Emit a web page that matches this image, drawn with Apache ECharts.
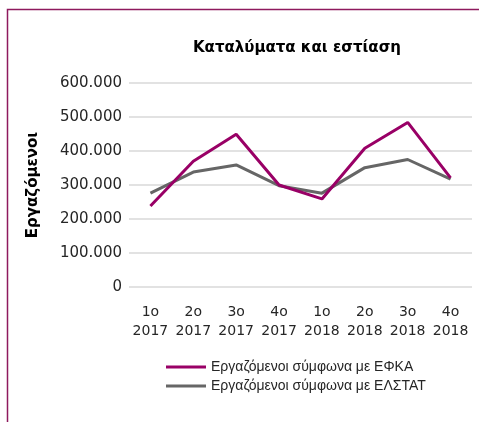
<!DOCTYPE html>
<html>
<head>
<meta charset="utf-8">
<script src="https://cdn.jsdelivr.net/npm/echarts@6/dist/echarts.min.js"></script>
<style>
  html, body { margin: 0; padding: 0; background: #fff; }
  #chart { width: 480px; height: 422px; }
</style>
</head>
<body>
<div id="chart"></div>
<script>
// quarters (two-line labels)
const categories = ['1ο\n2017', '2ο\n2017', '3ο\n2017', '4ο\n2017', '1ο\n2018', '2ο\n2018', '3ο\n2018', '4ο\n2018'];
// employees according to EFKA
const efka = [238000, 370000, 449000, 300000, 259000, 408000, 484000, 321000];
// employees according to ELSTAT
const elstat = [276000, 338000, 359000, 298000, 276000, 351000, 375000, 317000];
const seriesNames = ['Εργαζόμενοι σύμφωνα με ΕΦΚΑ', 'Εργαζόμενοι σύμφωνα με ΕΛΣΤΑΤ'];

const txt = '#262626';
const chart = echarts.init(document.getElementById('chart'), null, { renderer: 'canvas' });

chart.setOption({
  animation: false,
  title: {
    text: 'Καταλύματα και εστίαση',
    left: 292,
    top: 36,
    textAlign: 'center',
    textStyle: { fontFamily: 'DejaVu Sans', fontSize: 15, fontWeight: 'bold', color: '#000' }
  },
  grid: { left: 129, right: 8, top: 83, bottom: 135 },
  xAxis: {
    type: 'category',
    data: categories,
    axisLine: { show: false },
    axisTick: { show: false },
    axisLabel: {
      color: txt, fontFamily: 'DejaVu Sans', fontSize: 14, lineHeight: 19,
      margin: 16, interval: 0
    }
  },
  yAxis: {
    type: 'value',
    min: 0,
    max: 600000,
    interval: 100000,
    name: 'Εργαζόμενοι',
    nameLocation: 'middle',
    nameGap: 88,
    nameTextStyle: { fontFamily: 'DejaVu Sans', fontSize: 15, fontWeight: 'bold', color: '#000' },
    axisLabel: {
      color: txt, fontFamily: 'DejaVu Sans', fontSize: 15, margin: 7,
      formatter: v => v === 0 ? '0' : String(v / 1000) + '.000'
    },
    splitLine: { lineStyle: { color: '#d9d9d9', width: 1.5 } }
  },
  legend: {
    orient: 'vertical',
    left: 161,
    top: 355,
    itemWidth: 40,
    itemHeight: 3,
    itemGap: 5,
    icon: 'rect',
    textStyle: { color: txt, fontFamily: 'Liberation Sans', fontSize: 14 },
    data: seriesNames
  },
  series: [
    {
      name: seriesNames[0], type: 'line', data: efka, symbol: 'none',
      lineStyle: { color: '#990066', width: 3 }, itemStyle: { color: '#990066' }
    },
    {
      name: seriesNames[1], type: 'line', data: elstat, symbol: 'none', z: 1,
      lineStyle: { color: '#666666', width: 3 }, itemStyle: { color: '#666666' }
    }
  ],
  graphic: [{
    type: 'polyline',
    shape: { points: [[7.5, 422], [7.5, 9.5], [479, 9.5]] },
    style: { stroke: '#8e1a5e', lineWidth: 1.5, fill: null }
  }]
});
</script>
</body>
</html>
